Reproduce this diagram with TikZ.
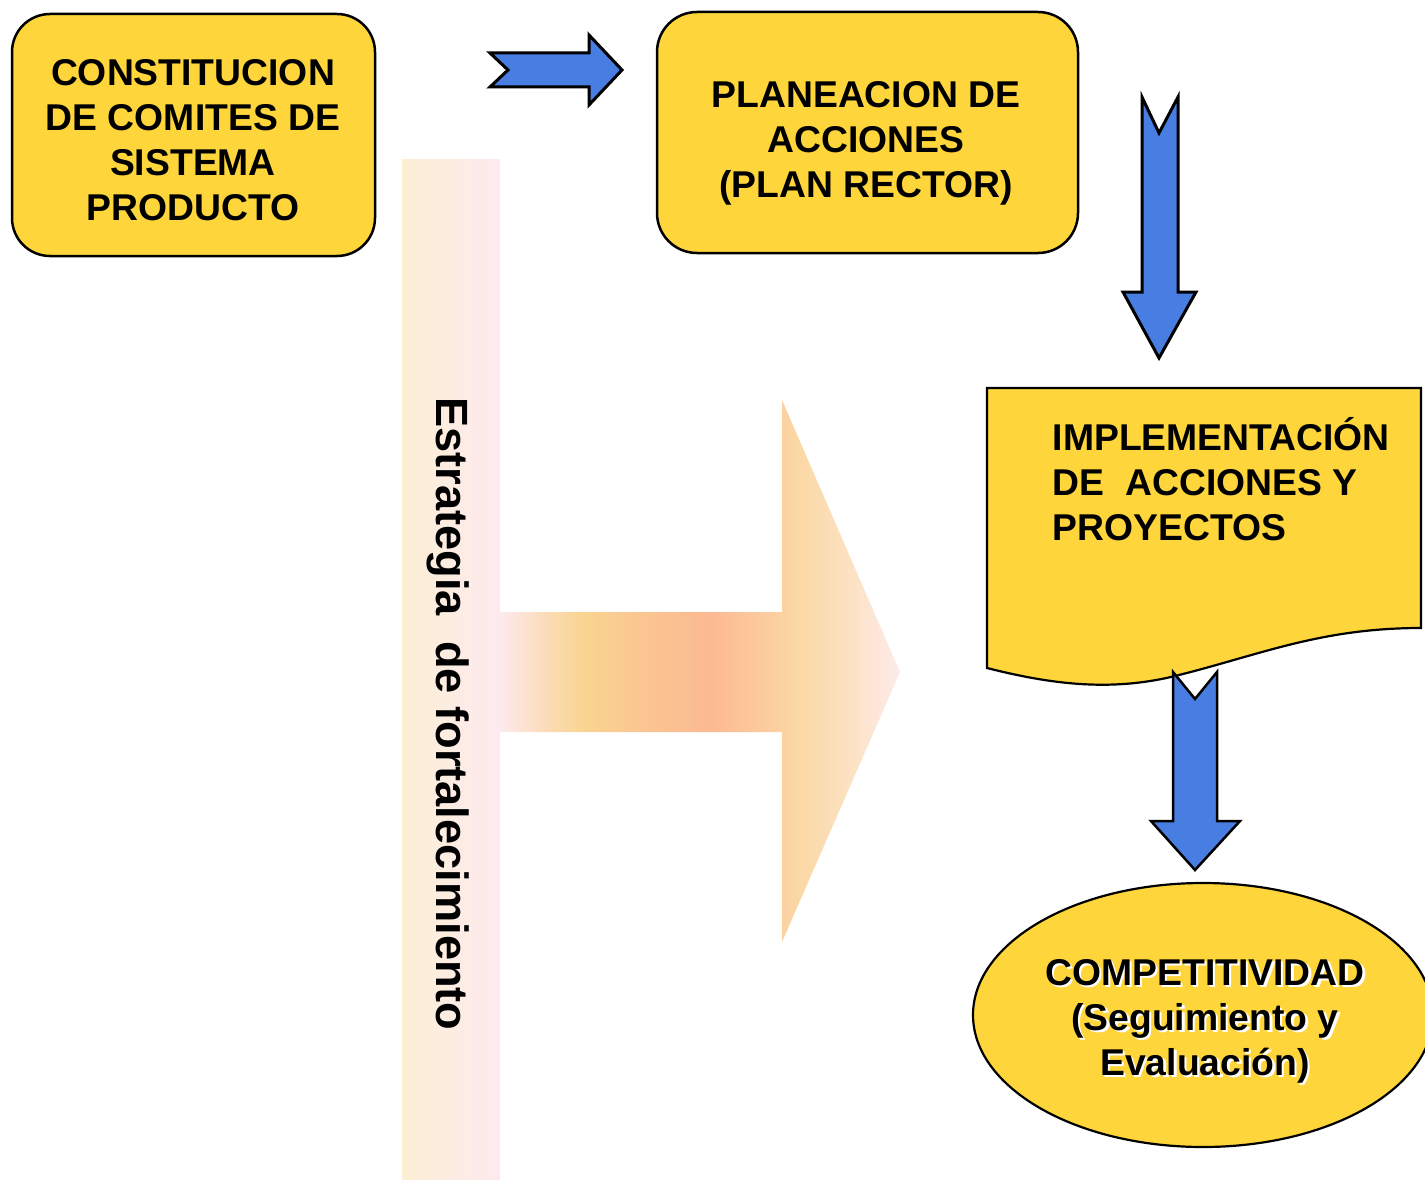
\documentclass[tikz,border=0pt]{standalone}
\usepackage{fontspec}
\setmainfont{Liberation Sans}
\usetikzlibrary{shapes.geometric}
\definecolor{yel}{RGB}{254,213,58}
\definecolor{blu}{RGB}{72,125,226}
\definecolor{bandL}{RGB}{252,239,212}
\definecolor{bandR}{RGB}{253,234,240}
\definecolor{gpa}{RGB}{253,233,238}
\definecolor{gpb}{RGB}{251,220,185}
\definecolor{gpc}{RGB}{250,212,145}
\definecolor{gpd}{RGB}{250,198,145}
\definecolor{gpe}{RGB}{252,185,146}
\definecolor{gpf}{RGB}{251,216,165}
\definecolor{gpg}{RGB}{252,226,195}
\definecolor{gph}{RGB}{253,234,236}
\pgfdeclarehorizontalshading{bigarr}{100bp}{color(0bp)=(gpa); color(25bp)=(gpa); color(30.6bp)=(gpb); color(35.4bp)=(gpc); color(42.5bp)=(gpd); color(51.25bp)=(gpe); color(62.5bp)=(gpf); color(68.75bp)=(gpg); color(75bp)=(gph); color(100bp)=(gph)}
\tikzset{
  ybox/.style={draw=black, line width=2.5pt, fill=yel, rounded corners=38pt, inner sep=0pt},
  txt/.style={font=\fontsize{37.3}{45}\selectfont\bfseries, align=center, inner sep=0pt},
  bluarrow/.style={draw=black, line width=3pt, fill=blu, line join=miter},
}
\begin{document}
\begin{tikzpicture}[x=1pt,y=-1pt]
\useasboundingbox (0,0) rectangle (1425,1180);
% vertical band
\shade[left color=bandL, right color=bandR] (402,160) rectangle (500,1180);
\node[font=\fontsize{45.2}{50}\selectfont\bfseries, rotate=-90, anchor=base, inner sep=0pt] (band) at (436.5,714) {Estrategia\ \ de fortalecimiento};
% big gradient arrow
\shade[shading=bigarr] (500,612) -- (782,612) -- (782,400) -- (900,672) -- (782,942) -- (782,732) -- (500,732) -- cycle;
% box 1
\node[ybox, minimum width=363pt, minimum height=242pt] (c1) at (193.5,135) {};
\node[txt] (c1t) at (193,140) {CONSTITUCION\\DE COMITES DE\\SISTEMA\\PRODUCTO};
% box 2
\node[ybox, minimum width=421pt, minimum height=241pt, rounded corners=40pt] (c2) at (867.5,132.5) {};
\node[txt] (c2t) at (866,143) {PLANEACION DE\\ACCIONES\\(PLAN RECTOR)};
% arrow right
\draw[bluarrow] (490,53) -- (589,53) -- (589,35) -- (622,70) -- (589,105) -- (589,87) -- (490,87) -- (508,70) -- cycle;
% arrow down 1
\draw[bluarrow] (1142,97) -- (1159,133) -- (1178,97) -- (1178,292) -- (1196,292) -- (1159,358) -- (1123,292) -- (1142,292) -- cycle;
% document shape
\draw[line width=2.2pt, fill=yel] (987,388) -- (1421,388) -- (1421,628)
  .. controls (1320,628) and (1260,655) .. (1175,676)
  .. controls (1110,692) and (1050,684) .. (987,668) -- cycle;
\node[txt, align=left, anchor=north west] (c3t) at (1052.5,417) {IMPLEMENTACIÓN\\DE\ \ ACCIONES Y\\PROYECTOS};
% arrow down 2
\draw[bluarrow, line width=2.5pt] (1173,672) -- (1195,699) -- (1217,672) -- (1217,821) -- (1240,821) -- (1195,870) -- (1151,821) -- (1173,821) -- cycle;
% ellipse
\node[ellipse, draw=black, line width=2.2pt, fill=yel, minimum width=460pt, minimum height=264pt, inner sep=0pt] (c4) at (1203,1015) {};
\node[txt, text=white] (c4s) at (1207.5,1023.5) {COMPETITIVIDAD\\(Seguimiento y\\Evaluación)};
\node[txt] (c4t) at (1205,1021) {COMPETITIVIDAD\\(Seguimiento y\\Evaluación)};
\end{tikzpicture}
\end{document}
